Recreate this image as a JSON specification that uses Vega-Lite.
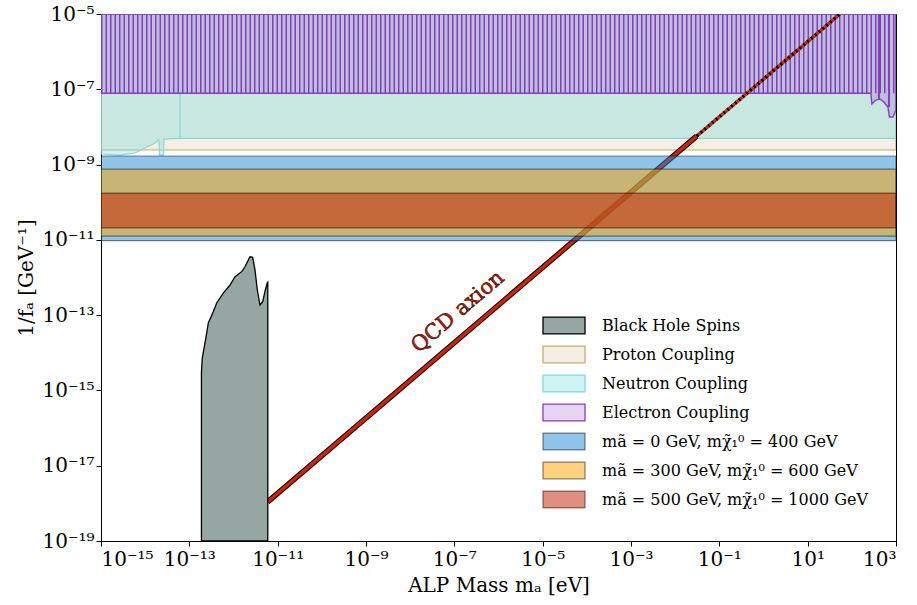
{
  "$schema": "https://vega.github.io/schema/vega-lite/v6.json",
  "width": 795,
  "height": 527,
  "autosize": {"type": "none"},
  "padding": {"left": 101, "top": 14, "right": 21, "bottom": 64},
  "background": "white",
  "config": {
    "view": {"stroke": "black", "strokeWidth": 1},
    "font": "DejaVu Serif",
    "axis": {
      "grid": false,
      "domainColor": "black",
      "tickColor": "black",
      "tickSize": 5,
      "labelFont": "DejaVu Serif",
      "labelFontSize": 20,
      "labelColor": "black",
      "titleFont": "DejaVu Serif",
      "titleFontSize": 20,
      "titleFontWeight": "normal",
      "titleColor": "black"
    },
    "legend": {
      "orient": "none",
      "legendX": 451.5,
      "legendY": 300,
      "padding": 0,
      "symbolType": "M-2,-0.8H2V0.8H-2Z",
      "symbolSize": 441,
      "symbolStrokeWidth": 1.3,
      "labelFont": "DejaVu Serif",
      "labelFontSize": 16,
      "labelColor": "black",
      "labelOffset": 26.5,
      "rowPadding": 6,
      "labelLimit": 400
    }
  },
  "datasets": {
    "neutron": [
      {"name": "Neutron Coupling", "m": 1e-15, "lo": 1.91e-9, "hi": 1e-5},
      {"name": "Neutron Coupling", "m": 2.69e-15, "lo": 1.79e-9, "hi": 1e-5},
      {"name": "Neutron Coupling", "m": 5.89e-15, "lo": 2.03e-9, "hi": 1e-5},
      {"name": "Neutron Coupling", "m": 9.91e-15, "lo": 2.75e-9, "hi": 1e-5},
      {"name": "Neutron Coupling", "m": 1.67e-14, "lo": 3.74e-9, "hi": 1e-5},
      {"name": "Neutron Coupling", "m": 2.06e-14, "lo": 4.49e-9, "hi": 1e-5},
      {"name": "Neutron Coupling", "m": 2.11e-14, "lo": 1.79e-9, "hi": 1e-5},
      {"name": "Neutron Coupling", "m": 2.60e-14, "lo": 1.79e-9, "hi": 1e-5},
      {"name": "Neutron Coupling", "m": 2.67e-14, "lo": 4.77e-9, "hi": 1e-5},
      {"name": "Neutron Coupling", "m": 6.15e-14, "lo": 4.99e-9, "hi": 1e-5},
      {"name": "Neutron Coupling", "m": 1000, "lo": 4.99e-9, "hi": 1e-5}
    ],
    "electron": [
      {"name": "Electron Coupling", "m": 1e-15, "lo": 7.82e-8, "hi": 1e-5},
      {"name": "Electron Coupling", "m": 270, "lo": 7.82e-8, "hi": 1e-5},
      {"name": "Electron Coupling", "m": 285, "lo": 4.07e-8, "hi": 1e-5},
      {"name": "Electron Coupling", "m": 351, "lo": 5.19e-8, "hi": 1e-5},
      {"name": "Electron Coupling", "m": 432, "lo": 5.52e-8, "hi": 1e-5},
      {"name": "Electron Coupling", "m": 532, "lo": 4.59e-8, "hi": 1e-5},
      {"name": "Electron Coupling", "m": 656, "lo": 3.38e-8, "hi": 1e-5},
      {"name": "Electron Coupling", "m": 709, "lo": 1.84e-8, "hi": 1e-5},
      {"name": "Electron Coupling", "m": 851, "lo": 1.84e-8, "hi": 1e-5},
      {"name": "Electron Coupling", "m": 1000, "lo": 2.82e-8, "hi": 1e-5}
    ],
    "bh": [
      {"name": "Black Hole Spins", "m": 1.88e-13, "v": 3e-15, "v0": 1e-19},
      {"name": "Black Hole Spins", "m": 1.96e-13, "v": 7.13e-15, "v0": 1e-19},
      {"name": "Black Hole Spins", "m": 2.47e-13, "v": 3.35e-14, "v0": 1e-19},
      {"name": "Black Hole Spins", "m": 2.69e-13, "v": 6.18e-14, "v0": 1e-19},
      {"name": "Black Hole Spins", "m": 3.48e-13, "v": 1.23e-13, "v0": 1e-19},
      {"name": "Black Hole Spins", "m": 4.16e-13, "v": 2.10e-13, "v0": 1e-19},
      {"name": "Black Hole Spins", "m": 5.87e-13, "v": 3.87e-13, "v0": 1e-19},
      {"name": "Black Hole Spins", "m": 8.34e-13, "v": 6.31e-13, "v0": 1e-19},
      {"name": "Black Hole Spins", "m": 1.08e-12, "v": 1.05e-12, "v0": 1e-19},
      {"name": "Black Hole Spins", "m": 1.53e-12, "v": 1.43e-12, "v0": 1e-19},
      {"name": "Black Hole Spins", "m": 1.82e-12, "v": 1.93e-12, "v0": 1e-19},
      {"name": "Black Hole Spins", "m": 2.36e-12, "v": 3.56e-12, "v0": 1e-19},
      {"name": "Black Hole Spins", "m": 2.72e-12, "v": 3.44e-12, "v0": 1e-19},
      {"name": "Black Hole Spins", "m": 3.07e-12, "v": 1.58e-12, "v0": 1e-19},
      {"name": "Black Hole Spins", "m": 3.46e-12, "v": 4.65e-13, "v0": 1e-19},
      {"name": "Black Hole Spins", "m": 3.98e-12, "v": 1.86e-13, "v0": 1e-19},
      {"name": "Black Hole Spins", "m": 4.58e-12, "v": 2.28e-13, "v0": 1e-19},
      {"name": "Black Hole Spins", "m": 5.25e-12, "v": 4.65e-13, "v0": 1e-19},
      {"name": "Black Hole Spins", "m": 5.82e-12, "v": 7.26e-13, "v0": 1e-19},
      {"name": "Black Hole Spins", "m": 5.97e-12, "v": 7.5e-13, "v0": 1e-19}
    ],
    "qcdSolid": [
      {"m": 5.94e-12, "v": 1.1e-18},
      {"m": 0.0307, "v": 5.69e-9}
    ],
    "qcdDotted": [
      {"m": 0.0307, "v": 5.69e-9},
      {"m": 54, "v": 1e-5}
    ]
  },
  "layer": [
    {
      "data": {"values": [{"name": "Proton Coupling", "m": 1e-15, "m2": 1000, "lo": 2.44e-9, "hi": 1e-5}]},
      "mark": {"type": "rect", "strokeWidth": 1.2, "clip": true},
      "encoding": {
        "x": {"field": "m", "type": "quantitative", "scale": {"type": "log", "domain": [1e-15, 1000], "nice": false},
          "axis": {"title": "ALP Mass mₐ [eV]", "values": [1e-15, 1e-13, 1e-11, 1e-9, 1e-7, 1e-5, 0.001, 0.1, 10, 1000], "labelPadding": 3, "titlePadding": 6,
            "labelExpr": "'10' + replace(replace(replace(replace(replace(replace(replace(replace(replace(replace(replace('' + round(log(datum.value)/LN10), '-', '⁻'), regexp('0','g'), '⁰'), regexp('1','g'), '¹'), regexp('2','g'), '²'), regexp('3','g'), '³'), regexp('4','g'), '⁴'), regexp('5','g'), '⁵'), regexp('6','g'), '⁶'), regexp('7','g'), '⁷'), regexp('8','g'), '⁸'), regexp('9','g'), '⁹')"}},
        "x2": {"field": "m2"},
        "y": {"field": "lo", "type": "quantitative", "scale": {"type": "log", "domain": [1e-19, 1e-5], "nice": false},
          "axis": {"title": "1/fₐ [GeV⁻¹]", "values": [1e-19, 1e-17, 1e-15, 1e-13, 1e-11, 1e-9, 1e-7, 1e-5], "labelPadding": 2, "titlePadding": 5,
            "labelExpr": "'10' + replace(replace(replace(replace(replace(replace(replace(replace(replace(replace(replace('' + round(log(datum.value)/LN10), '-', '⁻'), regexp('0','g'), '⁰'), regexp('1','g'), '¹'), regexp('2','g'), '²'), regexp('3','g'), '³'), regexp('4','g'), '⁴'), regexp('5','g'), '⁵'), regexp('6','g'), '⁶'), regexp('7','g'), '⁷'), regexp('8','g'), '⁸'), regexp('9','g'), '⁹')"}},
        "y2": {"field": "hi"},
        "fill": {"field": "name", "type": "nominal",
          "scale": {"domain": ["Black Hole Spins", "Proton Coupling", "Neutron Coupling", "Electron Coupling", "mã = 0 GeV, mχ̃₁⁰ = 400 GeV", "mã = 300 GeV, mχ̃₁⁰ = 600 GeV", "mã = 500 GeV, mχ̃₁⁰ = 1000 GeV"],
            "range": ["#96a6a3", "rgba(200,176,112,0.2)", "rgba(100,212,222,0.3)", "rgba(140,60,195,0.22)", "rgba(35,137,213,0.5)", "rgba(255,165,0,0.5)", "rgba(192,32,0,0.5)"]},
          "legend": {"title": null}},
        "stroke": {"field": "name", "type": "nominal",
          "scale": {"domain": ["Black Hole Spins", "Proton Coupling", "Neutron Coupling", "Electron Coupling", "mã = 0 GeV, mχ̃₁⁰ = 400 GeV", "mã = 300 GeV, mχ̃₁⁰ = 600 GeV", "mã = 500 GeV, mχ̃₁⁰ = 1000 GeV"],
            "range": ["black", "#c4ad72", "#86d8d8", "#8a3cc0", "rgba(0,0,0,0.45)", "rgba(0,0,0,0.45)", "rgba(0,0,0,0.45)"]},
          "legend": {"title": null}}
      }
    },
    {
      "data": {"name": "neutron"},
      "mark": {"type": "area", "strokeWidth": 1.2, "clip": true},
      "encoding": {
        "x": {"field": "m", "type": "quantitative"},
        "y": {"field": "lo", "type": "quantitative"},
        "y2": {"field": "hi"},
        "fill": {"field": "name", "type": "nominal"},
        "stroke": {"field": "name", "type": "nominal"}
      }
    },
    {
      "data": {"values": [{"m": 6.15e-14, "lo": 4.99e-9, "hi": 7.82e-8}]},
      "mark": {"type": "rule", "stroke": "#86d8d8", "strokeWidth": 1.3},
      "encoding": {
        "x": {"field": "m", "type": "quantitative"},
        "y": {"field": "lo", "type": "quantitative"},
        "y2": {"field": "hi"}
      }
    },
    {
      "data": {"name": "electron"},
      "mark": {"type": "area", "strokeWidth": 1.4, "clip": true},
      "encoding": {
        "x": {"field": "m", "type": "quantitative"},
        "y": {"field": "lo", "type": "quantitative"},
        "y2": {"field": "hi"},
        "fill": {"field": "name", "type": "nominal"},
        "stroke": {"field": "name", "type": "nominal"}
      }
    },
    {
      "data": {"values": [{"m": 1e-15, "m2": 1000, "v": 8.84e-7}]},
      "mark": {"type": "rule", "stroke": "#8a3cc0", "strokeWidth": 79, "strokeDash": [1.5, 3.0], "strokeCap": "butt", "clip": true},
      "encoding": {
        "x": {"field": "m", "type": "quantitative"},
        "x2": {"field": "m2"},
        "y": {"field": "v", "type": "quantitative"}
      }
    },
    {
      "data": {"values": [{"m": 411, "lo": 5.5e-8, "hi": 1e-5}, {"m": 692, "lo": 3.38e-8, "hi": 1e-5}]},
      "mark": {"type": "rule", "stroke": "#8a3cc0", "strokeWidth": 2},
      "encoding": {
        "x": {"field": "m", "type": "quantitative"},
        "y": {"field": "lo", "type": "quantitative"},
        "y2": {"field": "hi"}
      }
    },
    {
      "data": {"name": "qcdSolid"},
      "mark": {"type": "line", "stroke": "black", "strokeWidth": 5.5, "clip": true},
      "encoding": {
        "x": {"field": "m", "type": "quantitative"},
        "y": {"field": "v", "type": "quantitative"}
      }
    },
    {
      "data": {"name": "qcdSolid"},
      "mark": {"type": "line", "stroke": "#c8260a", "strokeWidth": 3.5, "clip": true},
      "encoding": {
        "x": {"field": "m", "type": "quantitative"},
        "y": {"field": "v", "type": "quantitative"}
      }
    },
    {
      "data": {"name": "qcdDotted"},
      "mark": {"type": "line", "stroke": "black", "strokeWidth": 3.5, "strokeDash": [2.5, 2.5], "clip": true},
      "encoding": {
        "x": {"field": "m", "type": "quantitative"},
        "y": {"field": "v", "type": "quantitative"}
      }
    },
    {
      "data": {"name": "qcdDotted"},
      "mark": {"type": "line", "stroke": "#d0260a", "strokeWidth": 3.5, "strokeDash": [2.5, 2.5], "strokeDashOffset": 2.5, "clip": true},
      "encoding": {
        "x": {"field": "m", "type": "quantitative"},
        "y": {"field": "v", "type": "quantitative"}
      }
    },
    {
      "data": {"values": [
        {"name": "mã = 0 GeV, mχ̃₁⁰ = 400 GeV", "m": 1e-15, "m2": 1000, "lo": 9.5e-12, "hi": 1.69e-9},
        {"name": "mã = 300 GeV, mχ̃₁⁰ = 600 GeV", "m": 1e-15, "m2": 1000, "lo": 1.26e-11, "hi": 7.6e-10},
        {"name": "mã = 500 GeV, mχ̃₁⁰ = 1000 GeV", "m": 1e-15, "m2": 1000, "lo": 2.07e-11, "hi": 1.75e-10}
      ]},
      "mark": {"type": "rect", "strokeWidth": 1.2, "clip": true},
      "encoding": {
        "x": {"field": "m", "type": "quantitative"},
        "x2": {"field": "m2"},
        "y": {"field": "lo", "type": "quantitative"},
        "y2": {"field": "hi"},
        "fill": {"field": "name", "type": "nominal"},
        "stroke": {"field": "name", "type": "nominal"}
      }
    },
    {
      "data": {"name": "bh"},
      "mark": {"type": "area", "strokeWidth": 1.3, "clip": true},
      "encoding": {
        "x": {"field": "m", "type": "quantitative"},
        "y": {"field": "v", "type": "quantitative"},
        "y2": {"field": "v0"},
        "fill": {"field": "name", "type": "nominal"},
        "stroke": {"field": "name", "type": "nominal"}
      }
    },
    {
      "data": {"values": [{"m": 1.21e-7, "v": 1.21e-13, "label": "QCD axion"}]},
      "mark": {"type": "text", "angle": -40.4, "align": "center", "baseline": "middle", "font": "DejaVu Serif", "fontSize": 21, "fill": "#c41a00", "stroke": "black", "strokeWidth": 0.5},
      "encoding": {
        "x": {"field": "m", "type": "quantitative"},
        "y": {"field": "v", "type": "quantitative"},
        "text": {"field": "label"}
      }
    }
  ]
}
